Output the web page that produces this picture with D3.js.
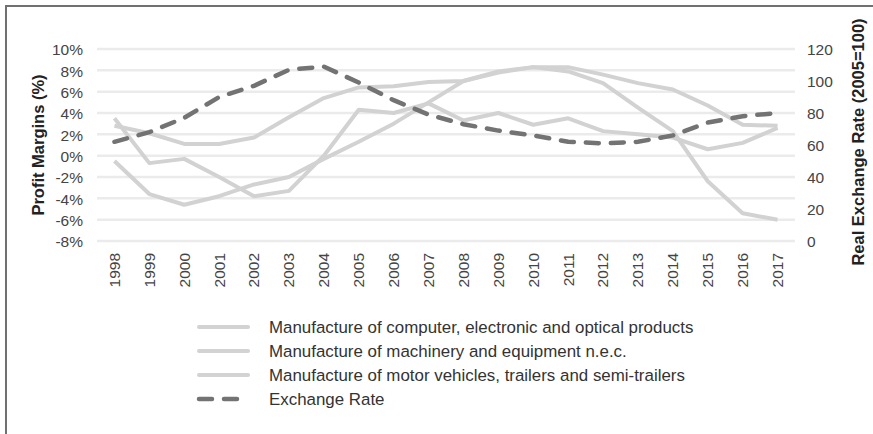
<html>
<head>
  <meta charset="utf8">
  <title>Profit margins and exchange rate</title>
  <style>
    * { margin: 0; padding: 0; }
    body { background: #fff; }
    text { font-family: "Liberation Sans", Arial, sans-serif; }
  </style>
</head>
<body>
  <script src="https://cdn.jsdelivr.net/npm/d3@7"></script>
  <script>
    var years = ['1998', '1999', '2000', '2001', '2002', '2003', '2004', '2005', '2006', '2007',
      '2008', '2009', '2010', '2011', '2012', '2013', '2014', '2015', '2016', '2017']
    // profit margins (%), left axis
    var computer = [3.5, -0.7, -0.3, -2.0, -3.8, -3.3, 0.0, 4.3, 4.0, 4.9, 3.3, 4.0, 2.9, 3.5, 2.3, 2.0, 1.7, 0.6, 1.2, 2.6]
    var machinery = [-0.5, -3.6, -4.6, -3.8, -2.7, -2.0, -0.3, 1.3, 3.0, 5.0, 7.0, 7.8, 8.3, 7.9, 6.8, 4.5, 2.3, -2.4, -5.4, -6.0]
    var vehicles = [2.8, 2.1, 1.1, 1.1, 1.7, 3.6, 5.4, 6.4, 6.5, 6.9, 7.0, 7.9, 8.3, 8.3, 7.6, 6.8, 6.2, 4.7, 2.9, 2.8]
    // real exchange rate (2005=100), right axis
    var exchange = [62, 68, 77, 90, 97, 107, 109, 99, 88, 79, 73, 69, 66, 62, 61, 62, 66, 74, 78, 80]
    var leftTicks = [-8, -6, -4, -2, 0, 2, 4, 6, 8, 10]
    var rightTicks = [0, 20, 40, 60, 80, 100, 120]
    var legendLabels = ['Manufacture of computer, electronic and optical products',
      'Manufacture of machinery and equipment n.e.c.',
      'Manufacture of motor vehicles, trailers and semi-trailers',
      'Exchange Rate']

    var w = 873
    var h = 434
    var plotL = 97, plotR = 795, plotT = 49, plotB = 241

    var svg = d3.select('body').append('svg').attr('width', w).attr('height', h)

    // frame (left and top edge)
    svg.append('path')
      .attr('d', 'M6,' + h + 'V6H' + w)
      .attr('fill', 'none')
      .attr('stroke', '#707070')
      .attr('stroke-width', 2)

    var x = d3.scaleBand().domain(years).range([plotL, plotR])
    var yL = d3.scaleLinear().domain([-8, 10]).range([plotB, plotT])
    var yR = d3.scaleLinear().domain([0, 120]).range([plotB, plotT])

    // grid
    svg.append('g').selectAll('line')
      .data(leftTicks)
      .enter()
      .append('line')
      .attr('x1', plotL)
      .attr('x2', plotR)
      .attr('y1', d => yL(d))
      .attr('y2', d => yL(d))
      .attr('stroke', '#ebebeb')
      .attr('stroke-width', 2.5)

    var axL = svg.append('g')
      .attr('transform', 'translate(' + plotL + ',1)')
      .call(d3.axisLeft(yL).tickValues(leftTicks).tickSize(0).tickPadding(14).tickFormat(d => d + '%'))
    var axR = svg.append('g')
      .attr('transform', 'translate(' + plotR + ',1)')
      .call(d3.axisRight(yR).tickValues(rightTicks).tickSize(0).tickPadding(12))
    var axB = svg.append('g')
      .attr('transform', 'translate(0,' + plotB + ')')
      .call(d3.axisBottom(x).tickSize(0))
    axB.selectAll('text')
      .attr('transform', 'rotate(-90)')
      .attr('text-anchor', 'end')
      .attr('x', -12)
      .attr('y', 0)
      .attr('dy', '0.35em')

    ;[axL, axR, axB].forEach(a => {
      a.select('.domain').remove()
      a.selectAll('text').attr('font-size', '15.5px').attr('fill', '#444')
        .attr('font-family', '"Liberation Sans", Arial, sans-serif')
    })

    // axis titles
    svg.append('text')
      .attr('transform', 'translate(38,145) rotate(-90)')
      .attr('text-anchor', 'middle')
      .attr('dy', '0.35em')
      .attr('font-size', '16.5px')
      .attr('font-weight', 'bold')
      .attr('fill', '#222')
      .text('Profit Margins (%)')
    svg.append('text')
      .attr('transform', 'translate(858,142) rotate(-90)')
      .attr('text-anchor', 'middle')
      .attr('dy', '0.35em')
      .attr('font-size', '16.5px')
      .attr('font-weight', 'bold')
      .attr('fill', '#222')
      .text('Real Exchange Rate (2005=100)')

    var cx = (d, i) => x(years[i]) + x.bandwidth() / 2
    var lineL = d3.line().x(cx).y(d => yL(d))
    var lineR = d3.line().x(cx).y(d => yR(d))

    var grey = '#d2d2d2'
    ;[computer, machinery, vehicles].forEach(s => {
      svg.append('path')
        .datum(s)
        .attr('d', lineL)
        .attr('fill', 'none')
        .attr('stroke', grey)
        .attr('stroke-width', 4)
        .attr('stroke-linejoin', 'round')
    })
    svg.append('path')
      .datum(exchange)
      .attr('d', lineR)
      .attr('fill', 'none')
      .attr('stroke', '#737373')
      .attr('stroke-width', 4.5)
      .attr('stroke-linecap', 'round')
      .attr('stroke-dasharray', '13,12')

    // legend
    var lg = svg.append('g').selectAll('g')
      .data(legendLabels)
      .enter()
      .append('g')
      .attr('transform', (d, i) => 'translate(197,' + (327 + i * 24) + ')')
    lg.append('line')
      .attr('x1', 2)
      .attr('x2', (d, i) => i < 3 ? 51 : 44)
      .attr('stroke', (d, i) => i < 3 ? grey : '#737373')
      .attr('stroke-width', (d, i) => i < 3 ? 4 : 4.5)
      .attr('stroke-linecap', 'round')
      .attr('stroke-dasharray', (d, i) => i < 3 ? null : '13,12')
    lg.append('text')
      .attr('x', 72)
      .attr('dy', '0.35em')
      .attr('font-size', '16.9px')
      .attr('fill', '#333')
      .text(d => d)
  </script>
</body>
</html>
